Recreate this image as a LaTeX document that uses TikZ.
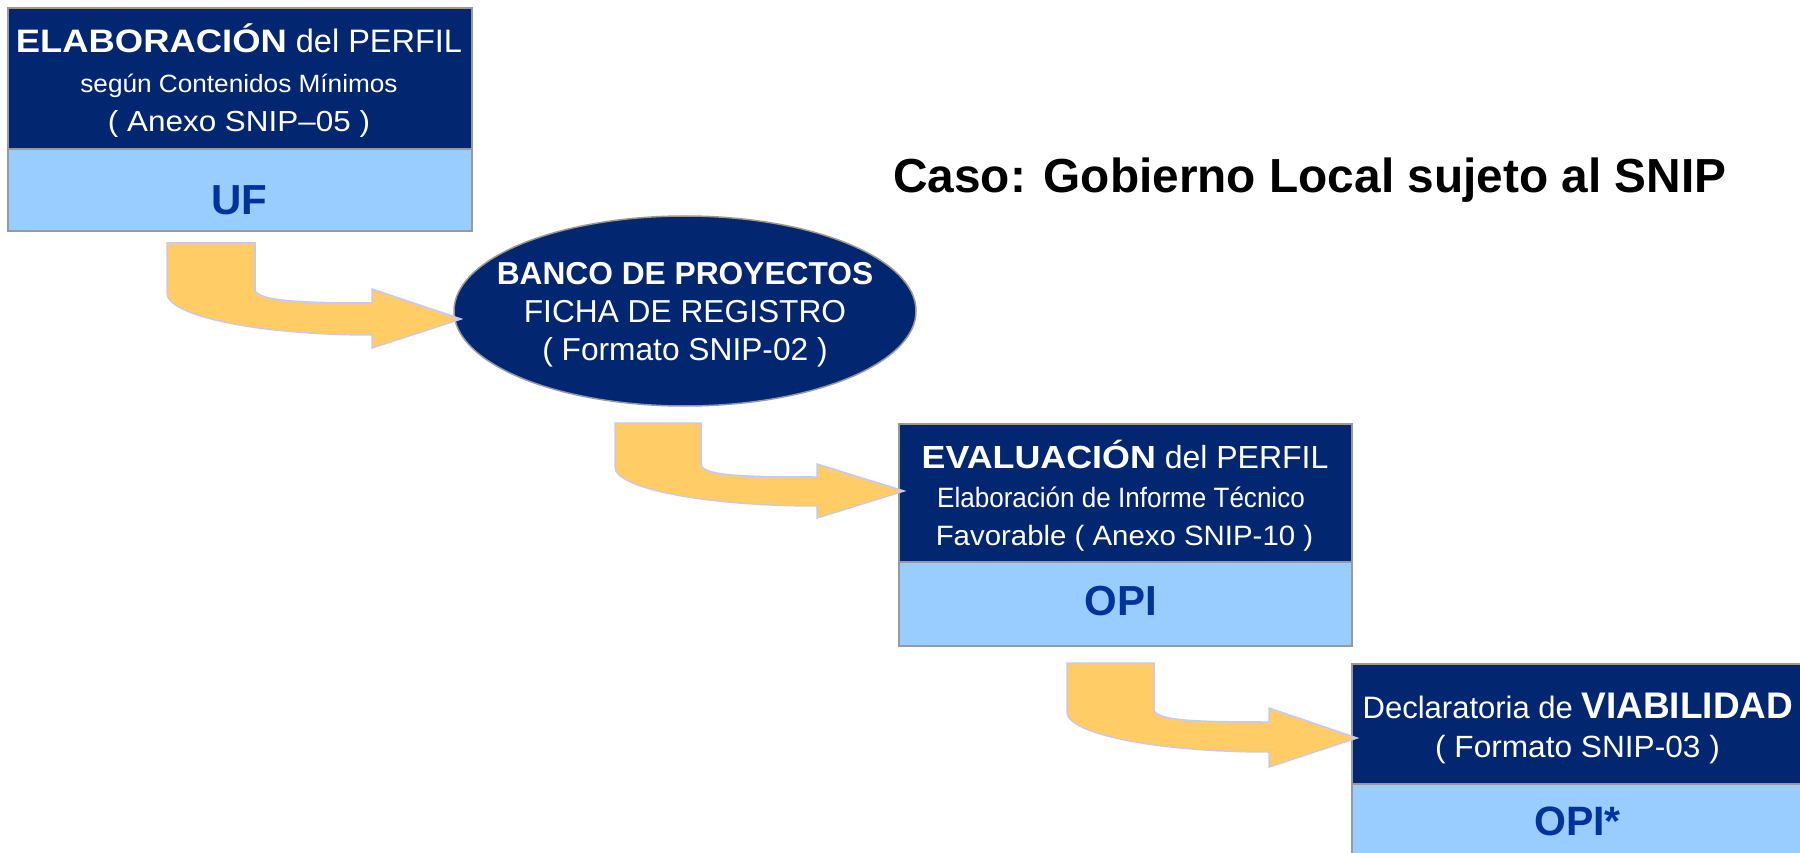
\documentclass[tikz,border=0pt]{standalone}
\usepackage{fontspec}
\setmainfont{Liberation Sans}
\usepackage{graphicx}
\usetikzlibrary{shapes.geometric}
\definecolor{navy}{HTML}{022670}
\definecolor{lightb}{HTML}{99CCFF}
\definecolor{opiblue}{HTML}{003399}
\definecolor{arrowfill}{HTML}{FFCC66}
\definecolor{arrowline}{HTML}{C8C8EE}
\definecolor{edgegray}{HTML}{999999}
\newcommand{\fs}[1]{\fontsize{#1}{#1}\selectfont}
\newcommand{\sx}[2]{\scalebox{#1}[1]{#2}}
\begin{document}
\begin{tikzpicture}[x=1pt,y=-1pt,
  topbox/.style={draw=edgegray, line width=2pt, fill=navy, anchor=north west, inner sep=0},
  botbox/.style={draw=edgegray, line width=2pt, fill=lightb, anchor=north west, inner sep=0},
  txt/.style={text=white, inner sep=0, anchor=base},
  lbl/.style={text=opiblue, inner sep=0, anchor=base, font=\bfseries},
  blockarrow/.style={fill=arrowfill, draw=arrowline, line width=1.5pt, line join=miter}]
\fill[white] (0,0) rectangle (1800,853);
\useasboundingbox (0,0) rectangle (1800,853);

% box 1
\node[topbox, minimum width=464pt, minimum height=141pt] (b1) at (7,7) {};
\node[botbox, minimum width=464pt, minimum height=82pt] (b1l) at (7,148) {};
% ellipse
\node[ellipse, draw=edgegray, line width=1.5pt, fill=navy, minimum width=462pt, minimum height=190pt, inner sep=0] (ell) at (685,311) {};
% box 2
\node[topbox, minimum width=453pt, minimum height=138pt] (b2) at (898,423) {};
\node[botbox, minimum width=453pt, minimum height=84pt] (b2l) at (898,561) {};
% box 3
\node[topbox, minimum width=452pt, minimum height=120pt] (b3) at (1351,663) {};
\node[botbox, minimum width=452pt, minimum height=78pt] (b3l) at (1351,783) {};

% title
\node[inner sep=0, anchor=base west, font=\bfseries] (title) at (893,193) {\fs{47.8}Caso: Gobierno Local sujeto al SNIP};

% box 1 text
\node[txt] (b1t1) at (239,53) {\fs{32.5}\sx{1.12}{\bfseries ELABORACIÓN} del PERFIL};
\node[txt] (b1t2) at (239,93) {\fs{25}\sx{1.047}{según Contenidos Mínimos}};
\node[txt] (b1t3) at (239,132) {\fs{29}\sx{1.084}{( Anexo SNIP–05 )}};
\node[lbl] (uf) at (239.5,215) {\fs{42}UF};

% ellipse text
\node[txt] (e1) at (685,284) {\fs{31.7}\bfseries BANCO DE PROYECTOS};
\node[txt] (e2) at (685,322) {\fs{31.7}FICHA DE REGISTRO};
\node[txt] (e3) at (685,360) {\fs{31.7}( Formato SNIP-02 )};

% box 2 text
\node[txt] (b2t1) at (1125,468) {\fs{32}\sx{1.12}{\bfseries EVALUACIÓN} del PERFIL};
\node[txt] (b2t2) at (1121,507) {\fs{28}\sx{0.93}{Elaboración de Informe Técnico}};
\node[txt] (b2t3) at (1124.5,545) {\fs{28}\sx{1.05}{Favorable ( Anexo SNIP-10 )}};
\node[lbl] (opi) at (1121,615) {\fs{42}OPI};

% box 3 text
\node[txt] (b3t1) at (1578,718) {\fs{31}Declaratoria de {\fs{37}\bfseries VIABILIDAD}};
\node[txt] (b3t2) at (1577.5,757) {\fs{30.7}\sx{1.03}{( Formato SNIP-03 )}};
\node[lbl] (opis) at (1577.5,835) {\fs{41}OPI*};

% block arrows
\draw[blockarrow] (167,243) -- (255,243) -- (255,290) .. controls (258,301) and (300,303) .. (372,303) -- (372,289) -- (461,319) -- (372,348) -- (372,335) .. controls (259,335) and (167,316) .. (167,293) -- cycle;
\draw[blockarrow] (615,423) -- (701,423) -- (701,465) .. controls (704,476) and (746,477) .. (817,477) -- (817,464) -- (904,491) -- (817,518) -- (817,506) .. controls (705.5,506) and (615,488.5) .. (615,467) -- cycle;
\draw[blockarrow] (1067,663) -- (1154,663) -- (1154,710) .. controls (1157,721) and (1199,722) .. (1269,722) -- (1269,708) -- (1357,738) -- (1269,767) -- (1269,752) .. controls (1157.5,752) and (1067,734) .. (1067,712) -- cycle;
\end{tikzpicture}
\end{document}
